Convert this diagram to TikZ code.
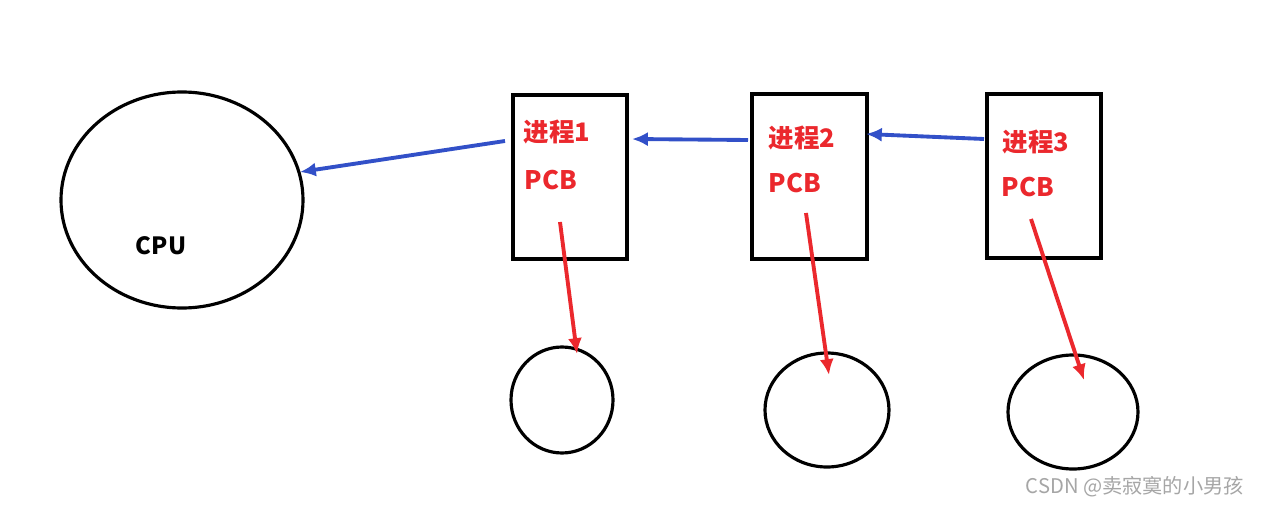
\documentclass[tikz,border=0pt]{standalone}
\usepackage{fontspec}
\setmainfont{Noto Sans CJK SC}
\usetikzlibrary{arrows.meta}
\definecolor{myred}{RGB}{235,40,45}
\definecolor{myblue}{RGB}{50,80,200}
\tikzset{
 shp/.style={draw=black,line width=1.8pt},
 lbl/.style={text=myred,font=\fontsize{14.5}{15}\selectfont\bfseries,inner sep=0},
 barrow/.style={myblue,line width=2.2pt,-{Latex[length=9pt,width=8pt]}},
 rarrow/.style={myred,line width=2.2pt,-{Latex[length=9pt,width=8pt]}},
}
\begin{document}
\begin{tikzpicture}[x=0.02cm,y=-0.02cm]
\useasboundingbox[fill=white] (0,0) rectangle (1265,510);
\draw[shp] (182,200) ellipse [x radius=121, y radius=108];
\node[font=\fontsize{13.5}{14}\selectfont\bfseries] (cpu) at (161,246) {CPU};
\coordinate (cpuR) at (300,172);
\node[shp,minimum width=114*0.02cm,minimum height=164*0.02cm] (b1) at (570,177) {};
\node[shp,minimum width=115*0.02cm,minimum height=165*0.02cm] (b2) at (809.5,176.5) {};
\node[shp,minimum width=114*0.02cm,minimum height=164*0.02cm] (b3) at (1044,176) {};
\node[lbl] (t1) at (557,132) {进程1};
\node[lbl] (p1) at (551,180) {PCB};
\node[lbl] (t2) at (802,138) {进程2};
\node[lbl] (p2) at (795,183) {PCB};
\node[lbl] (t3) at (1036,142) {进程3};
\node[lbl] (p3) at (1028,187) {PCB};
\draw[shp] (562,400) ellipse [x radius=51, y radius=53];
\draw[shp] (827,410) ellipse [x radius=62, y radius=57];
\draw[shp] (1073,412) ellipse [x radius=65, y radius=57];
\coordinate (c1) at (577,354);
\coordinate (c2) at (829,375);
\coordinate (c3) at (1084,380);
\draw[barrow] (505,141) -- (cpuR);
\draw[barrow] (748,140) -- (632,139);
\draw[barrow] (984,139) -- (866,134);
\draw[rarrow] (560,222) -- (c1);
\draw[rarrow] (806,213) -- (c2);
\draw[rarrow] (1031,219) -- (c3);
\node[text=gray!70,font=\fontsize{11.5}{12}\selectfont,anchor=east] (wm) at (1250,487) {CSDN @卖寂寞的小男孩};
\end{tikzpicture}
\end{document}
